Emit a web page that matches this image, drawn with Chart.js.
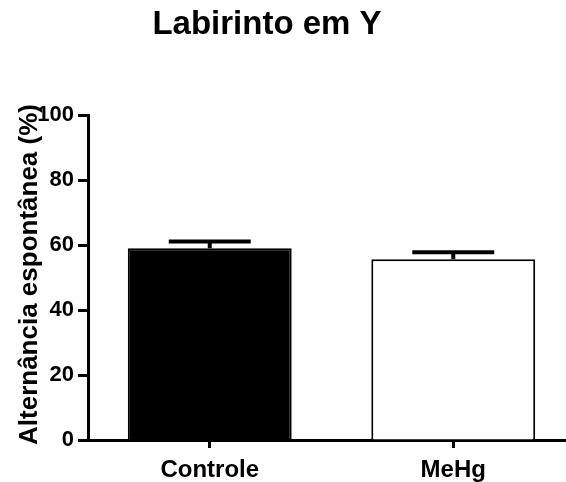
<!DOCTYPE html>
<html>
<head>
<meta charset="utf-8">
<script src="https://cdn.jsdelivr.net/npm/chart.js@4/dist/chart.umd.min.js"></script>
<style>
  html, body { margin: 0; padding: 0; background: #fff; overflow: hidden; }
  #box { width: 575px; height: 482px; }
</style>
</head>
<body>
<div id="box"><canvas id="chart" width="575" height="482"></canvas></div>
<script>
const groups = ["Controle", "MeHg"];
const means = [59.0, 55.6];
const sems = [2.1, 2.2];
const yTicks = [0, 20, 40, 60, 80, 100];

const titleText = "Labirinto em Y";
const yTitleText = "Alternância espontânea (%)";
const FONT = "'Liberation Sans', Arial, Helvetica, sans-serif";

// upper error bar only, as in Prism-style column graphs
const errorBars = {
  id: "errorBars",
  afterDatasetsDraw(chart) {
    const { ctx, scales } = chart;
    const meta = chart.getDatasetMeta(0);
    ctx.save();
    ctx.strokeStyle = "#000";
    ctx.lineWidth = 4;
    meta.data.forEach((bar, i) => {
      const yTop = scales.y.getPixelForValue(means[i] + sems[i]);
      const yBar = scales.y.getPixelForValue(means[i]);
      const half = bar.width * 0.25;
      ctx.beginPath();
      ctx.moveTo(bar.x, yBar);
      ctx.lineTo(bar.x, yTop);
      ctx.moveTo(bar.x - half, yTop);
      ctx.lineTo(bar.x + half, yTop);
      ctx.stroke();
    });
    ctx.restore();
  },
};

// chart title and rotated y title
const labels = {
  id: "labels",
  afterDraw(chart) {
    const { ctx, chartArea } = chart;
    ctx.save();
    ctx.fillStyle = "#000";
    ctx.textAlign = "center";
    ctx.textBaseline = "alphabetic";
    ctx.font = `bold 33px ${FONT}`;
    ctx.fillText(titleText, 267, 34);

    ctx.translate(37, (chartArea.top + chartArea.bottom) / 2 - 3);
    ctx.rotate(-Math.PI / 2);
    ctx.font = `bold 26px ${FONT}`;
    ctx.fillText(yTitleText, 0, 0);
    ctx.restore();
  },
};

new Chart(document.getElementById("chart"), {
  type: "bar",
  data: {
    labels: groups,
    datasets: [{
      data: means,
      backgroundColor: ["#000", "#fff"],
      borderColor: "#000",
      borderWidth: 2,
      barPercentage: 0.673,
      categoryPercentage: 1,
    }],
  },
  options: {
    responsive: false,
    animation: false,
    layout: { padding: { top: 115, right: 0, left: 0, bottom: 0 } },
    plugins: { legend: { display: false }, tooltip: { enabled: false }, title: { display: false } },
    scales: {
      x: {
        grid: { display: true, offset: false, drawOnChartArea: false, drawTicks: true, tickLength: 8, tickWidth: 3, tickColor: "#000" },
        border: { display: true, color: "#000", width: 3 },
        ticks: { color: "#000", font: { family: FONT, size: 24, weight: "bold" }, padding: 8 },
        afterFit(scale) { scale.height = 42; },
      },
      y: {
        min: 0,
        max: 100,
        afterBuildTicks(scale) { scale.ticks = yTicks.map((v) => ({ value: v })); },
        grid: { display: true, drawOnChartArea: false, drawTicks: true, tickLength: 10, tickWidth: 3, tickColor: "#000" },
        border: { display: true, color: "#000", width: 3 },
        ticks: { color: "#000", font: { family: FONT, size: 22, weight: "bold" }, padding: 4 },
        afterFit(scale) { scale.width = 88; },
      },
    },
  },
  plugins: [errorBars, labels],
});
</script>
</body>
</html>
